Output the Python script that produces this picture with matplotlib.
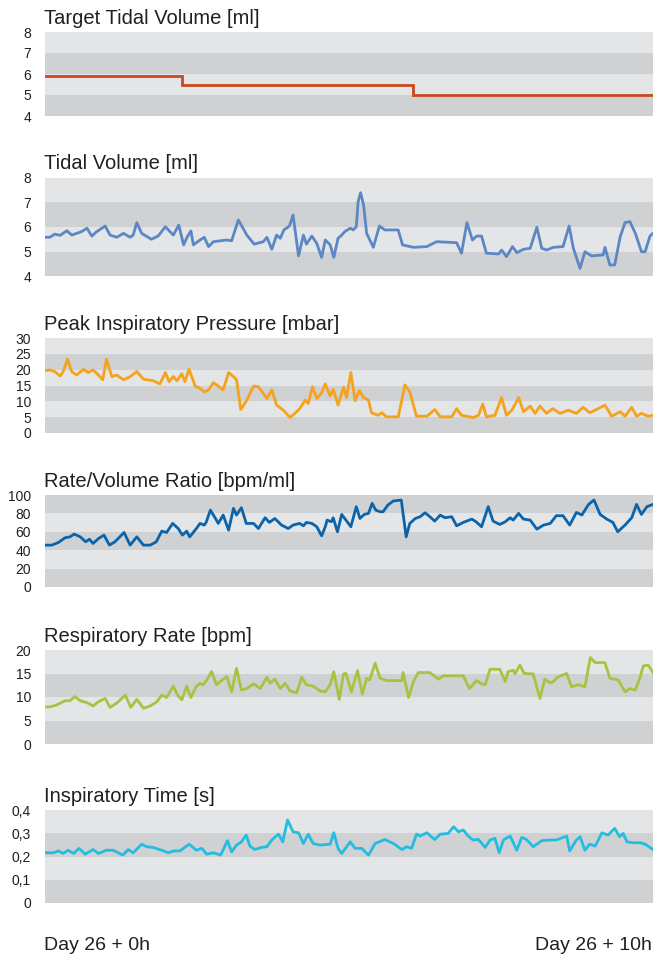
import matplotlib
matplotlib.use('Agg')
import matplotlib.pyplot as plt

plt.rcParams['font.family'] = ['Liberation Sans', 'DejaVu Sans']

W, H = 653, 957
TEXT = '#231f20'
LIGHT = '#e4e5e7'
DARK = '#d0d1d3'

# time in hours from Day 26 + 0h
target_t = [0.0, 2.25, 6.05, 10.0]
target_v = [5.9, 5.5, 5.0, 5.0]

tv_t = [0.00, 0.08, 0.16, 0.25, 0.36, 0.44, 0.52, 0.60, 0.69, 0.77,
        0.85, 0.99, 1.07, 1.18, 1.29, 1.40, 1.45, 1.51, 1.59, 1.75,
        1.86, 1.98, 2.11, 2.20, 2.28, 2.34, 2.40, 2.44, 2.55, 2.62,
        2.69, 2.77, 2.99, 3.07, 3.18, 3.32, 3.44, 3.59, 3.65, 3.73,
        3.81, 3.87, 3.93, 4.02, 4.08, 4.17, 4.25, 4.30, 4.39, 4.47,
        4.55, 4.61, 4.69,
        4.75, 4.82, 4.88, 4.93, 5.02, 5.07, 5.12, 5.15, 5.19, 5.24,
        5.29, 5.40, 5.50, 5.59, 5.81, 5.88, 6.06, 6.28, 6.44, 6.77,
        6.85, 6.94, 7.03, 7.10, 7.18, 7.26, 7.46, 7.51, 7.59, 7.69,
        7.76, 7.87, 7.98, 8.09, 8.17, 8.25, 8.36, 8.52, 8.62, 8.69,
        8.80, 8.88, 8.99, 9.18, 9.21, 9.29, 9.37, 9.46, 9.54, 9.62,
        9.71, 9.81, 9.87, 9.95, 10.00]
tv_v = [5.58, 5.58, 5.71, 5.66, 5.85, 5.67, 5.74, 5.81, 5.95, 5.63,
        5.81, 6.04, 5.67, 5.58, 5.74, 5.58, 5.67, 6.18, 5.74, 5.50,
        5.63, 6.01, 5.67, 6.08, 5.27, 5.60, 5.84, 5.27, 5.47, 5.58,
        5.20, 5.40, 5.47, 5.44, 6.29, 5.67, 5.30, 5.40, 5.58, 5.09,
        5.67, 5.54, 5.88, 6.04, 6.49, 4.82, 5.67, 5.30, 5.63, 5.33,
        4.76, 5.47, 5.27,
        4.76, 5.54, 5.67, 5.81, 5.95, 5.88, 6.01, 7.03, 7.40, 6.90,
        5.74, 5.17, 6.04, 5.88, 5.88, 5.27, 5.17, 5.20, 5.40, 5.36,
        4.93, 6.18, 5.47, 5.63, 5.63, 4.93, 4.90, 5.06, 4.79, 5.20,
        4.95, 5.09, 5.13, 5.99, 5.13, 5.06, 5.17, 5.20, 6.04, 5.13,
        4.31, 4.99, 4.82, 4.86, 5.17, 4.45, 4.45, 5.60, 6.18, 6.22,
        5.74, 4.99, 4.99, 5.63, 5.74]

pip_t = [0.00, 0.08, 0.16, 0.25, 0.30, 0.37, 0.44, 0.52, 0.63, 0.71,
         0.79, 0.88, 0.95, 1.01, 1.10, 1.18, 1.29, 1.40, 1.51, 1.62,
         1.78, 1.89, 1.98, 2.04, 2.11, 2.17, 2.25, 2.30, 2.37, 2.47,
         2.55, 2.62, 2.69, 2.77, 2.85, 2.93, 3.02, 3.10, 3.15, 3.22,
         3.32, 3.43, 3.51, 3.59, 3.65, 3.73, 3.81, 3.92, 4.03, 4.11,
         4.19, 4.28, 4.33, 4.40, 4.47, 4.55, 4.61, 4.69,
         4.74, 4.82, 4.91, 4.96, 5.03, 5.10, 5.17, 5.24, 5.32, 5.37,
         5.48, 5.54, 5.62, 5.81, 5.92, 6.00, 6.11, 6.28, 6.41, 6.50,
         6.69, 6.77, 6.85, 7.04, 7.13, 7.20, 7.26, 7.40, 7.51, 7.59,
         7.68, 7.79, 7.87, 7.98, 8.06, 8.14, 8.25, 8.35, 8.47, 8.61,
         8.74, 8.85, 8.96, 9.07, 9.21, 9.32, 9.46, 9.54, 9.65, 9.73,
         9.81, 9.92, 10.00]
pip_v = [19.7, 19.9, 19.4, 18.0, 19.4, 23.3, 19.4, 18.3, 20.1, 19.1,
         19.9, 18.3, 16.8, 23.3, 17.8, 18.3, 16.8, 17.8, 19.4, 17.0,
         16.5, 15.5, 19.1, 16.2, 17.8, 16.5, 18.7, 16.2, 20.1, 14.8,
         14.1, 13.0, 13.6, 15.9, 14.8, 13.6, 19.1, 17.8, 16.8, 7.4,
         10.4, 14.8, 14.6, 12.5, 10.9, 13.6, 8.8, 7.2, 4.9, 6.2,
         7.7, 10.4, 9.3, 14.6, 10.9, 12.7, 15.5, 11.7,
         13.8, 8.8, 14.4, 11.2, 19.1, 10.2, 13.4, 11.2, 10.4, 6.4,
         5.6, 6.4, 5.1, 5.1, 15.2, 13.0, 5.3, 5.3, 7.4, 5.1,
         5.1, 7.7, 5.6, 4.9, 5.6, 9.1, 5.1, 5.6, 11.2, 5.6,
         7.2, 11.2, 6.7, 8.5, 6.2, 8.5, 6.2, 7.7, 6.2, 7.2,
         6.2, 8.1, 6.4, 7.4, 8.8, 5.3, 6.7, 5.3, 8.1, 5.3,
         6.2, 5.3, 5.6]

rvr_t = [0.00, 0.11, 0.22, 0.33, 0.41, 0.48, 0.58, 0.67, 0.73, 0.79,
         0.88, 0.97, 1.06, 1.15, 1.23, 1.30, 1.40, 1.51, 1.62, 1.73,
         1.83, 1.92, 2.00, 2.10, 2.19, 2.26, 2.33, 2.38, 2.49, 2.55,
         2.62, 2.65, 2.72, 2.81, 2.85, 2.93, 3.02, 3.10, 3.15, 3.23,
         3.31, 3.43, 3.51, 3.62, 3.69, 3.78, 3.89, 4.00, 4.08, 4.19,
         4.25, 4.30, 4.39, 4.47, 4.55, 4.61, 4.64, 4.71,
         4.74, 4.81, 4.88, 4.95, 5.03, 5.12, 5.18, 5.25, 5.32, 5.38,
         5.44, 5.51, 5.56, 5.64, 5.73, 5.86, 5.94, 6.00, 6.09, 6.17,
         6.25, 6.33, 6.41, 6.50, 6.58, 6.69, 6.77, 6.88, 7.02, 7.09,
         7.18, 7.29, 7.37, 7.48, 7.57, 7.65, 7.70, 7.79, 7.87, 7.98,
         8.09, 8.20, 8.31, 8.41, 8.52, 8.63, 8.74, 8.83, 8.94, 9.03,
         9.13, 9.24, 9.34, 9.42, 9.54, 9.65, 9.73, 9.81, 9.90, 10.00]
rvr_v = [45.5, 45.5, 48.4, 53.5, 54.5, 57.5, 54.5, 49.1, 52.0, 47.3,
         52.7, 56.4, 45.5, 49.1, 54.5, 59.3, 45.5, 54.5, 45.5, 45.5,
         49.1, 60.7, 59.3, 69.1, 63.6, 56.4, 60.7, 54.5, 63.6, 69.1,
         67.3, 70.2, 83.6, 73.8, 69.1, 78.2, 61.8, 85.5, 78.2, 86.2,
         69.1, 69.1, 63.6, 75.3, 70.2, 74.5, 67.3, 63.6, 67.3, 69.1,
         66.5, 70.2, 69.1, 65.5, 55.6, 65.5, 72.7, 70.9,
         75.3, 60.0, 78.9, 72.7, 65.5, 87.3, 74.5, 78.9, 80.0, 90.9,
         83.6, 81.8, 81.8, 89.1, 93.5, 94.5, 54.5, 69.1, 74.5, 76.4,
         80.7, 76.4, 71.6, 78.2, 75.3, 76.4, 66.5, 70.2, 73.8, 70.9,
         65.5, 87.3, 71.6, 68.0, 70.9, 75.3, 72.7, 80.0, 73.8, 72.7,
         62.9, 67.3, 69.1, 77.5, 77.5, 67.3, 81.1, 78.2, 89.8, 94.5,
         78.9, 73.8, 70.2, 60.0, 67.3, 75.3, 89.8, 78.9, 87.3, 89.8]

rr_t = [0.00, 0.08, 0.19, 0.33, 0.41, 0.49, 0.58, 0.69, 0.79, 0.88,
        0.99, 1.07, 1.18, 1.32, 1.41, 1.51, 1.62, 1.73, 1.84, 1.92,
        2.00, 2.11, 2.18, 2.25, 2.33, 2.40, 2.49, 2.55, 2.60, 2.66,
        2.74, 2.82, 2.91, 2.99, 3.07, 3.15, 3.23, 3.32, 3.43, 3.54,
        3.65, 3.70, 3.78, 3.87, 3.95, 4.03, 4.14, 4.22, 4.30, 4.41,
        4.52, 4.61, 4.69,
        4.75, 4.84, 4.91, 4.95, 5.04, 5.14, 5.22, 5.29, 5.34, 5.43,
        5.51, 5.62, 5.87, 5.89, 5.98, 6.06, 6.14, 6.33, 6.47, 6.55,
        6.88, 6.98, 7.10, 7.18, 7.24, 7.32, 7.48, 7.57, 7.62, 7.70,
        7.73, 7.81, 7.88, 8.03, 8.14, 8.22, 8.31, 8.36, 8.44, 8.58,
        8.66, 8.77, 8.88, 8.97, 9.05, 9.21, 9.29, 9.43, 9.54, 9.62,
        9.71, 9.79, 9.84, 9.92, 10.00]
rr_v = [7.9, 7.9, 8.3, 9.2, 9.2, 10.1, 9.2, 8.8, 8.1, 9.0,
        9.7, 7.8, 8.7, 10.4, 7.8, 9.5, 7.6, 8.1, 9.0, 10.4,
        9.9, 12.3, 10.4, 9.4, 12.3, 9.9, 12.3, 12.9, 12.6, 13.6,
        15.4, 12.6, 13.6, 14.3, 11.1, 16.1, 11.5, 11.8, 12.8, 11.8,
        14.2, 12.9, 13.8, 11.8, 12.9, 11.3, 10.9, 14.2, 12.6, 12.3,
        11.3, 11.1, 12.6,
        15.4, 9.5, 14.9, 15.0, 11.1, 15.6, 10.6, 14.0, 13.6, 17.2,
        14.0, 13.5, 13.5, 15.2, 9.9, 13.3, 15.2, 15.2, 13.8, 14.5,
        14.5, 11.8, 13.5, 12.8, 12.6, 15.9, 15.9, 13.3, 15.4, 15.7,
        14.9, 16.8, 15.0, 14.9, 9.7, 13.8, 13.0, 13.3, 14.3, 15.0,
        12.2, 12.6, 12.2, 18.4, 17.3, 17.3, 14.0, 13.6, 11.1, 11.8,
        11.5, 14.3, 16.6, 16.8, 15.2]

it_t = [0.00, 0.14, 0.22, 0.30, 0.38, 0.47, 0.56, 0.66, 0.79, 0.88,
        1.01, 1.12, 1.28, 1.37, 1.45, 1.59, 1.67, 1.78, 1.95, 2.03,
        2.11, 2.22, 2.37, 2.49, 2.58, 2.66, 2.77, 2.89, 3.00, 3.07,
        3.15, 3.23, 3.31, 3.37, 3.45, 3.56, 3.65, 3.73, 3.84, 3.91,
        3.99, 4.08, 4.17, 4.25, 4.33, 4.41, 4.52, 4.69,
        4.75, 4.82, 4.88, 5.02, 5.10, 5.21, 5.32, 5.43, 5.59, 5.73,
        5.87, 5.95, 6.03, 6.11, 6.17, 6.28, 6.41, 6.50, 6.63, 6.72,
        6.80, 6.88, 6.96, 7.04, 7.13, 7.24, 7.32, 7.40, 7.47, 7.54,
        7.65, 7.76, 7.84, 7.92, 8.03, 8.17, 8.31, 8.41, 8.58, 8.63,
        8.74, 8.80, 8.88, 8.96, 9.05, 9.16, 9.26, 9.37, 9.45, 9.51,
        9.57, 9.68, 9.79, 9.87, 10.00]
it_v = [0.216, 0.216, 0.224, 0.213, 0.227, 0.213, 0.235, 0.210, 0.230, 0.213,
        0.227, 0.227, 0.206, 0.230, 0.216, 0.253, 0.242, 0.239, 0.224, 0.216,
        0.224, 0.224, 0.253, 0.227, 0.235, 0.210, 0.216, 0.206, 0.268, 0.220,
        0.249, 0.263, 0.292, 0.245, 0.230, 0.239, 0.242, 0.271, 0.296, 0.263,
        0.357, 0.306, 0.302, 0.256, 0.296, 0.256, 0.249, 0.253,
        0.302, 0.235, 0.213, 0.263, 0.235, 0.235, 0.206, 0.256, 0.273, 0.256,
        0.230, 0.242, 0.235, 0.296, 0.288, 0.302, 0.273, 0.296, 0.299, 0.328,
        0.306, 0.314, 0.288, 0.271, 0.273, 0.239, 0.271, 0.278, 0.216, 0.271,
        0.288, 0.227, 0.282, 0.273, 0.242, 0.268, 0.271, 0.271, 0.288, 0.224,
        0.271, 0.285, 0.227, 0.253, 0.245, 0.302, 0.292, 0.321, 0.285, 0.299,
        0.263, 0.259, 0.259, 0.253, 0.230]

panels = [
    ('Target Tidal Volume [ml]', target_t, target_v, '#c94a1e',
     [4, 5, 6, 7, 8], ['4', '5', '6', '7', '8'], (32, 116), True),
    ('Tidal Volume [ml]', tv_t, tv_v, '#5b87c5',
     [4, 5, 6, 7, 8], ['4', '5', '6', '7', '8'], (178, 276), False),
    ('Peak Inspiratory Pressure [mbar]', pip_t, pip_v, '#f5a21c',
     [0, 5, 10, 15, 20, 25, 30], ['0', '5', '10', '15', '20', '25', '30'], (338, 433), False),
    ('Rate/Volume Ratio [bpm/ml]', rvr_t, rvr_v, '#0b63aa',
     [0, 20, 40, 60, 80, 100], ['0', '20', '40', '60', '80', '100'], (495, 587), False),
    ('Respiratory Rate [bpm]', rr_t, rr_v, '#a5c441',
     [0, 5, 10, 15, 20], ['0', '5', '10', '15', '20'], (650, 744), False),
    ('Inspiratory Time [s]', it_t, it_v, '#22bde1',
     [0, 0.1, 0.2, 0.3, 0.4], ['0', '0,1', '0,2', '0,3', '0,4'], (810, 903), False),
]

fig = plt.figure(figsize=(W / 100, H / 100), dpi=100)
x0, x1 = 45, 653

for title, t, v, color, ticks, labels, (top, bot), step in panels:
    ax = fig.add_axes([x0 / W, 1 - bot / H, (x1 - x0) / W, (bot - top) / H])
    for i in range(len(ticks) - 1):
        ax.axhspan(ticks[i], ticks[i + 1], color=DARK if i % 2 == 0 else LIGHT, lw=0)
    if step:
        ax.plot(t, v, color=color, lw=2.0, drawstyle='steps-post', solid_joinstyle='miter')
    else:
        ax.plot(t, v, color=color, lw=2.0, solid_joinstyle='round')
    ax.set_xlim(0, 10)
    ax.set_ylim(ticks[0], ticks[-1])
    ax.set_yticks(ticks)
    ax.set_yticklabels(labels)
    ax.set_xticks([])
    ax.tick_params(axis='y', length=0, pad=10, labelsize=10, labelcolor=TEXT)
    for s in ax.spines.values():
        s.set_visible(False)
    fig.text(44 / W, 1 - (top - 14) / H, title, ha='left', va='center',
             fontsize=14.5, color=TEXT)

fig.text(44 / W, 1 - 945 / H, 'Day 26 + 0h', ha='left', va='center', fontsize=14, color=TEXT)
fig.text(652 / W, 1 - 945 / H, 'Day 26 + 10h', ha='right', va='center', fontsize=14, color=TEXT)

fig.savefig('out.png', dpi=100)
